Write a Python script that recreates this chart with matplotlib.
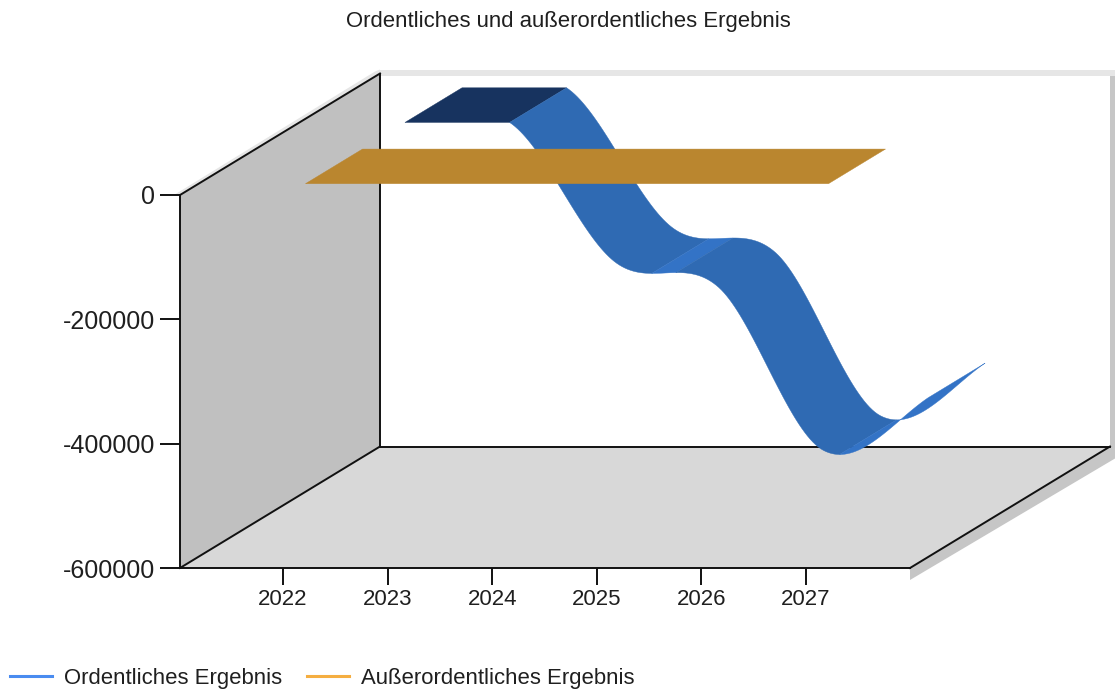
import numpy as np
import matplotlib
matplotlib.use("Agg")
import matplotlib.pyplot as plt
from matplotlib.collections import PolyCollection
from matplotlib.lines import Line2D
from matplotlib.patches import Polygon

plt.rcParams['font.family'] = ['Liberation Sans', 'DejaVu Sans']
plt.rcParams['axes.unicode_minus'] = False

# --- DATA ---
years = ['2022', '2023', '2024', '2025', '2026', '2027']
ordentlich = [-2500, -2500, -226000, -268000, -530000, -445500]
ausserordentlich = [-2500, -2500, -2500, -2500, -2500, -2500]
y_ticks = [0, -200000, -400000, -600000]

W, H = 1115, 693
TEXT = '#1f1f1f'
EDGE = '#111111'
LW = 1.4

# depth of the 3d box, in x categories and in value units
DEPTH_X = 200 / 104.6
DEPTH_Y = 121.5 / 373 * 600000
X0, X1 = (180 - 283) / 104.6, (910 - 283) / 104.6
Y0, Y1 = -600000, 0


def proj(x, v, d):
    return x + DEPTH_X * d, v + DEPTH_Y * d


# --- CARDINAL SPLINE, ONE ARRAY OF SAMPLES PER SEGMENT ---
def spline_segments(values, n=40):
    v = np.array(values, dtype=float)
    tang = np.zeros(len(v))
    tang[1:-1] = (v[2:] - v[:-2]) / 2
    tang[0] = (v[1] - v[0]) / 2
    # the original ends steeper than a plain cardinal spline
    tang[-1] = (v[-1] - v[-2]) * 1.35
    segs = []
    for i in range(len(v) - 1):
        t = np.linspace(0, 1, n)
        if v[i] == v[i + 1]:
            # equal neighbours stay straight in the original
            segs.append((i + t, np.full(n, v[i])))
            continue
        h00 = 2 * t**3 - 3 * t**2 + 1
        h10 = t**3 - 2 * t**2 + t
        h01 = -2 * t**3 + 3 * t**2
        h11 = t**3 - t**2
        segs.append((i + t, h00 * v[i] + h10 * tang[i] + h01 * v[i + 1] + h11 * tang[i + 1]))
    return segs


def draw_ribbon(ax, values, d0, d1, flat, down, up, zorder):
    # samples of the whole curve, then one polygon per run of the same shade
    xs = np.concatenate([s[0] for s in spline_segments(values)])
    vs = np.concatenate([s[1] for s in spline_segments(values)])
    keep = np.r_[True, np.diff(xs) > 0]
    xs, vs = xs[keep], vs[keep]
    dv = np.diff(vs)
    shade = [flat if d == 0 else (up if d > 0 else down) for d in dv]

    polys, cols = [], []
    start = 0
    for j in range(1, len(shade) + 1):
        if j == len(shade) or shade[j] != shade[start]:
            idx = np.arange(start, j + 1)
            front = [proj(xs[k], vs[k], d0) for k in idx]
            back = [proj(xs[k], vs[k], d1) for k in idx[::-1]]
            polys.append(front + back)
            cols.append(shade[start])
            start = j
    pc = PolyCollection(polys, facecolors=cols, edgecolors=cols, linewidths=0.3,
                        clip_on=False, zorder=zorder)
    ax.add_collection(pc)


fig = plt.figure(figsize=(W / 100, H / 100), dpi=100)
ax = fig.add_axes([180 / W, (H - 568) / H, 730 / W, 373 / H])
ax.set_xlim(X0, X1)
ax.set_ylim(Y0, Y1)
ax.patch.set_visible(False)

# --- BOX: SHADOWS, WALLS, EDGES ---
px_x = 1 / 104.6
px_y = 600000 / 373
shadows = [
    ([proj(X1, Y0, 0), proj(X1, Y0, 1), (X1 + DEPTH_X + 5 * px_x, Y0 + DEPTH_Y),
      (X1 + DEPTH_X + 5 * px_x, Y0 + DEPTH_Y - 12 * px_y), (X1, Y0 - 12 * px_y)], '#c6c6c6'),
    ([proj(X1, Y0, 1), proj(X1, Y1, 1), (X1 + DEPTH_X + 5 * px_x, Y1 + DEPTH_Y),
      (X1 + DEPTH_X + 5 * px_x, Y0 + DEPTH_Y)], '#c6c6c6'),
    ([(X0 + DEPTH_X, Y1 + DEPTH_Y - 2 * px_y), (X0 + DEPTH_X, Y1 + DEPTH_Y + 4 * px_y),
      (X1 + DEPTH_X + 5 * px_x, Y1 + DEPTH_Y + 4 * px_y),
      (X1 + DEPTH_X + 5 * px_x, Y1 + DEPTH_Y - 2 * px_y)], '#e6e6e6'),
    ([proj(X0, Y1, 0), (X0 - 6 * px_x, Y1), (X0 + DEPTH_X - 5 * px_x, Y1 + DEPTH_Y + 2 * px_y),
      (X0 + DEPTH_X, Y1 + DEPTH_Y + 4 * px_y), proj(X0, Y1, 1)], '#e6e6e6'),
]
for pts, col in shadows:
    ax.add_patch(Polygon(pts, closed=True, fc=col, ec='none', clip_on=False, zorder=1))

left_wall = [proj(X0, Y0, 0), proj(X0, Y1, 0), proj(X0, Y1, 1), proj(X0, Y0, 1)]
floor = [proj(X0, Y0, 0), proj(X1, Y0, 0), proj(X1, Y0, 1), proj(X0, Y0, 1)]
ax.add_patch(Polygon(left_wall, closed=True, fc='#c0c0c0', ec='none', clip_on=False, zorder=1.2))
ax.add_patch(Polygon(floor, closed=True, fc='#d8d8d8', ec='none', clip_on=False, zorder=1.2))

edges = [
    (proj(X0, Y1, 0), proj(X0, Y1, 1)),
    (proj(X0, Y1, 1), proj(X0, Y0, 1)),
    (proj(X0, Y0, 0), proj(X0, Y0, 1)),
    (proj(X0, Y0, 1), proj(X1, Y0, 1)),
    (proj(X1, Y0, 0), proj(X1, Y0, 1)),
]
for a, b in edges:
    ax.plot([a[0], b[0]], [a[1], b[1]], color=EDGE, lw=LW, clip_on=False, zorder=1.5)

# --- SERIES ---
draw_ribbon(ax, ordentlich, 0.61, 0.895, '#17335f', '#2f6ab3', '#3373c6', 3)
draw_ribbon(ax, ausserordentlich, 0.11, 0.395, '#ba862f', '#ba862f', '#ba862f', 4)

# --- AXES ---
for s in ['top', 'right']:
    ax.spines[s].set_visible(False)
for s in ['left', 'bottom']:
    ax.spines[s].set_color(EDGE)
    ax.spines[s].set_linewidth(LW)
ax.set_xticks(range(len(years)), years)
ax.set_yticks(y_ticks, [str(t) for t in y_ticks])
ax.tick_params(axis='y', length=14.5, width=LW, color=EDGE, pad=3.5, labelsize=18, labelcolor=TEXT)
ax.tick_params(axis='x', length=12, width=LW, color=EDGE, pad=3, labelsize=16, labelcolor=TEXT)

fig.text(568.5 / W, 1 - 22 / H, 'Ordentliches und außerordentliches Ergebnis',
         ha='center', va='center', fontsize=15.9, color=TEXT)

handles = [Line2D([], [], color='#4a8cf0', lw=2.2, label='Ordentliches Ergebnis'),
           Line2D([], [], color='#f5ae41', lw=2.2, label='Außerordentliches Ergebnis')]
fig.legend(handles=handles, loc='lower left', bbox_to_anchor=(10 / W, 1 - 689 / H), ncol=2,
           frameon=False, fontsize=15.9, labelcolor=TEXT, borderpad=0, borderaxespad=0,
           handlelength=1.9, handletextpad=0.54, columnspacing=1.12)

fig.savefig('out.png', dpi=100)
